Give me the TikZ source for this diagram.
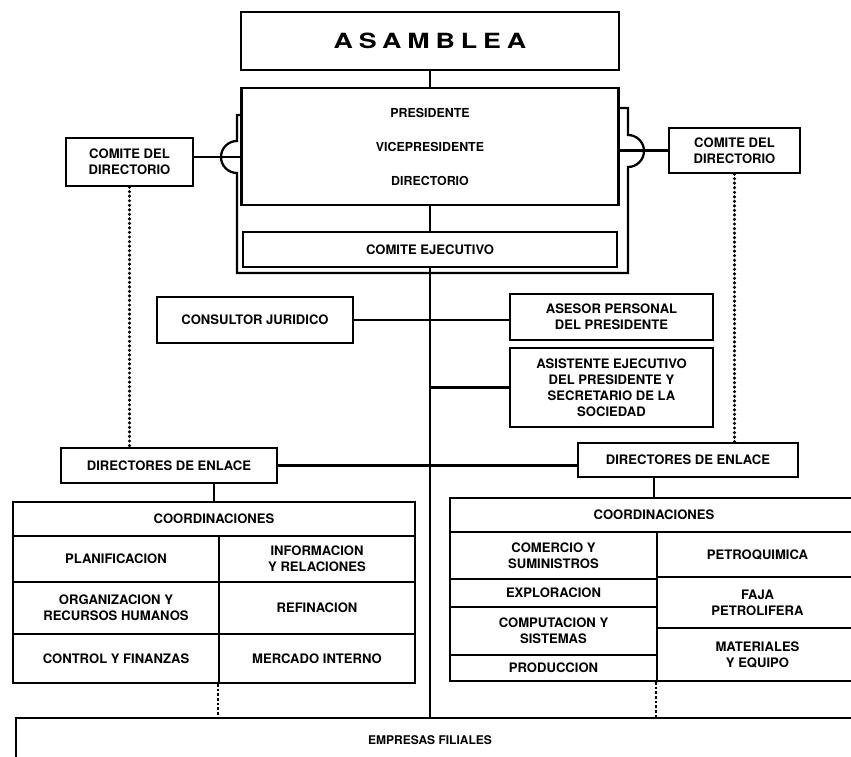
\documentclass[tikz,border=0pt]{standalone}
\usepackage{fontspec}
\setmainfont{TeX Gyre Heros}
\usepackage{graphicx}
\usepackage{tikz}

\begin{document}
\begin{tikzpicture}[x=0.75pt,y=-0.75pt,
  box/.style={draw,line width=1.7pt,inner sep=0pt,align=center,font=\bfseries\fontsize{9.8}{12}\selectfont},
  sz/.style 2 args={minimum width=#1*0.75pt,minimum height=#2*0.75pt},
  lab/.style={inner sep=0pt,align=center,font=\bfseries\fontsize{9.8}{12}\selectfont},
  wire/.style={line width=1.7pt},
  dots/.style={line width=2.6pt,line cap=round,dash pattern=on 0pt off 3.4pt},
  fdots/.style={line width=1.5pt,dash pattern=on 2pt off 1.5pt}]
\useasboundingbox (0,0) rectangle (851,757);
\clip (0,0) rectangle (851,757);
% top of the chart
\node[box,sz={378}{58},font={\bfseries\fontsize{15.7}{18}\selectfont\addfontfeature{LetterSpace=22}}] (asam) at (430,41) {\scalebox{1.28}[1]{ASAMBLEA}};
\node[box,sz={377}{117},font={\bfseries\fontsize{9.3}{25.5}\selectfont}] (pres) at (430,146.5) {PRESIDENTE\\VICEPRESIDENTE\\DIRECTORIO};
\node[box,sz={374}{35}] (ejec) at (430,249.5) {COMITE EJECUTIVO};
\node[box,sz={127}{48}] (cdl) at (129.5,162) {COMITE DEL\\DIRECTORIO};
\node[box,sz={131}{45}] (cdr) at (734.5,150.5) {COMITE DEL\\DIRECTORIO};
\draw[wire] (asam.south) -- (pres.north);
\draw[wire] (pres.south) -- (ejec.north);
% frame round the directorio, with the two bumps
\draw[wire] (242,115) -- (237,115) -- (237,141) arc[start angle=270,end angle=90,radius=16]
  -- (237,273) -- (628,273) -- (628,167) arc[start angle=90,end angle=-90,radius=16]
  -- (628,108) -- (619,108);
\coordinate (jl) at ([yshift=3.75pt]cdl.east);
\draw[wire] (jl) -- (jl -| pres.west);
\draw[wire] (cdr.west -| pres.east) -- (cdr.west);
% staff
\node[box,sz={196}{46}] (cons) at (255,320) {CONSULTOR JURIDICO};
\node[box,sz={203}{46}] (ases) at (611.5,317) {ASESOR PERSONAL\\DEL PRESIDENTE};
\node[box,sz={203}{79}] (asis) at (611.5,387.5) {ASISTENTE EJECUTIVO\\DEL PRESIDENTE Y\\SECRETARIO DE LA\\SOCIEDAD};
\node[box,sz={216}{35}] (del) at (169,465.5) {DIRECTORES DE ENLACE};
\node[box,sz={220}{34}] (der) at (688,460) {DIRECTORES DE ENLACE};
\draw[wire] (cons.east) -- (cons.east -| ases.west);
\draw[wire] (asis.west -| ejec.south) -- (asis.west);
\draw[wire] (del.east) -- (del.east -| der.west);
\draw[dots] (cdl.south) -- (cdl.south |- del.north);
\draw[dots] (cdr.south) -- (cdr.south |- der.north);
% coordinaciones, left
\node[box,sz={402}{34}] (cl) at (214,519) {COORDINACIONES};
\foreach \nm/\cx/\cy/\w/\h/\txt in {
  ll1/116/559/206/46/PLANIFICACION,
  lr1/317/559/196/46/{INFORMACION\\Y RELACIONES},
  ll2/116/608/206/52/{ORGANIZACION Y\\RECURSOS HUMANOS},
  lr2/317/608/196/52/REFINACION,
  ll3/116/658.5/206/49/{CONTROL Y FINANZAS},
  lr3/317/658.5/196/49/{MERCADO INTERNO}}
  \node[box,sz={\w}{\h}] (\nm) at (\cx,\cy) {\txt};
% coordinaciones, right
\node[box,sz={408}{34}] (cr) at (654,515) {COORDINACIONES};
\foreach \nm/\cx/\cy/\w/\h/\txt in {
  rl1/553.5/555.5/207/47/{COMERCIO Y\\SUMINISTROS},
  rl2/553.5/593/207/28/EXPLORACION,
  rl3/553.5/631/207/48/{COMPUTACION Y\\SISTEMAS},
  rl4/553.5/668/207/26/PRODUCCION,
  rr1/757.5/554.5/201/45/PETROQUIMICA,
  rr2/757.5/602.5/201/51/{FAJA\\PETROLIFERA},
  rr3/757.5/654.5/201/53/{MATERIALES\\Y EQUIPO}}
  \node[box,sz={\w}{\h}] (\nm) at (\cx,\cy) {\txt};
\draw[wire] (cl.north) -- (cl.north |- del.south);
\draw[wire] (cr.north) -- (cr.north |- der.south);
% bottom
\node[box,sz={864}{44}] (emp) at (448,740) {};
\node[lab,font=\bfseries\fontsize{9}{11}\selectfont] (empt) at (430,740) {EMPRESAS FILIALES};
\draw[wire] (ejec.south) -- (ejec.south |- emp.north);
\draw[fdots] (lr3.south west) -- (lr3.south west |- emp.north);
\draw[fdots] (rr3.south west) -- (rr3.south west |- emp.north);
\end{tikzpicture}
\end{document}
